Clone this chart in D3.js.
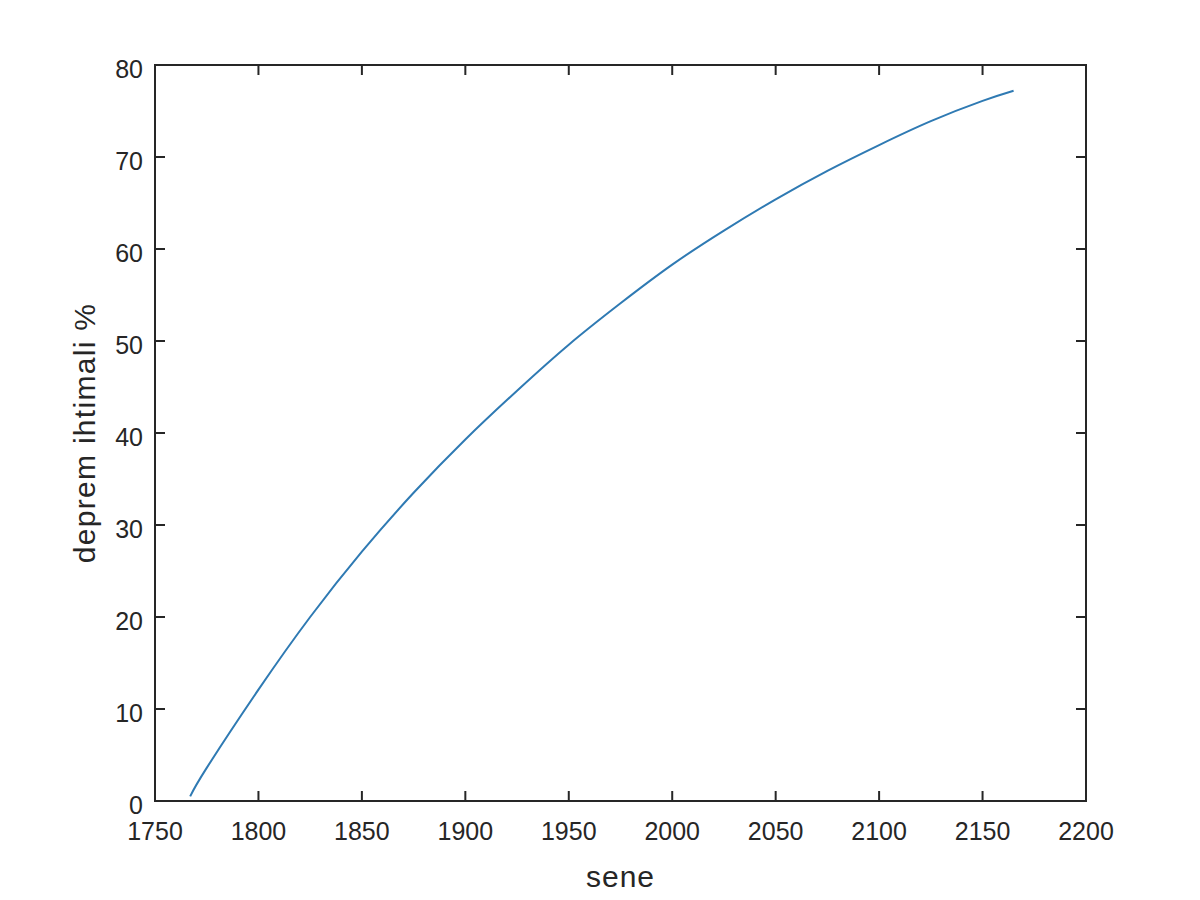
<!DOCTYPE html>
<html>
<head>
<meta charset="utf-8">
<script src="https://cdn.jsdelivr.net/npm/d3@7"></script>
<style>
  html, body { margin: 0; padding: 0; background: #fff; }
  svg { display: block; }
  text { font-family: "Liberation Sans", Arial, Helvetica, sans-serif; fill: #262626; }
</style>
</head>
<body>
<svg id="chart" width="1200" height="900"></svg>
<script>
// Data
const years = [1767, 1775, 1800, 1825, 1850, 1875, 1900, 1925, 1950, 1975, 2000, 2025, 2050, 2075, 2100, 2125, 2150, 2165];
const probability = [0.5, 3.6, 12.1, 20.0, 27.1, 33.5, 39.3, 44.6, 49.6, 54.1, 58.3, 62.0, 65.4, 68.5, 71.3, 73.9, 76.1, 77.2];
const xTicks = [1750, 1800, 1850, 1900, 1950, 2000, 2050, 2100, 2150, 2200];
const yTicks = [0, 10, 20, 30, 40, 50, 60, 70, 80];
const xLabel = "sene";
const yLabel = "deprem ihtimali %";

const svg = d3.select("#chart");
const mLeft = 155, mRight = 1086, mTop = 65, mBottom = 801;

const x = d3.scaleLinear().domain([1750, 2200]).range([mLeft, mRight]);
const y = d3.scaleLinear().domain([0, 80]).range([mBottom, mTop]);

const axisColor = "#262626";
const tickLen = 10;

// Box
svg.append("rect")
  .attr("x", mLeft).attr("y", mTop)
  .attr("width", mRight - mLeft).attr("height", mBottom - mTop)
  .attr("fill", "none").attr("stroke", axisColor).attr("stroke-width", 2);

// Ticks (inward, mirrored on opposite sides)
const g = svg.append("g").attr("stroke", axisColor).attr("stroke-width", 2);
xTicks.forEach(t => {
  g.append("line").attr("x1", x(t)).attr("x2", x(t)).attr("y1", mBottom).attr("y2", mBottom - tickLen);
  g.append("line").attr("x1", x(t)).attr("x2", x(t)).attr("y1", mTop).attr("y2", mTop + tickLen);
});
yTicks.forEach(t => {
  g.append("line").attr("x1", mLeft).attr("x2", mLeft + tickLen).attr("y1", y(t)).attr("y2", y(t));
  g.append("line").attr("x1", mRight).attr("x2", mRight - tickLen).attr("y1", y(t)).attr("y2", y(t));
});

// Tick labels
svg.append("g").selectAll("text").data(xTicks).join("text")
  .attr("x", d => x(d)).attr("y", 840)
  .attr("text-anchor", "middle").attr("font-size", 25)
  .text(d => d);
svg.append("g").selectAll("text").data(yTicks).join("text")
  .attr("x", 143).attr("y", d => y(d) + 13)
  .attr("text-anchor", "end").attr("font-size", 25)
  .text(d => d);

// Axis labels
svg.append("text")
  .attr("x", (mLeft + mRight) / 2).attr("y", 887)
  .attr("text-anchor", "middle").attr("font-size", 30)
  .attr("letter-spacing", 1)
  .text(xLabel);
svg.append("text")
  .attr("transform", `translate(95, ${(mTop + mBottom) / 2}) rotate(-90)`)
  .attr("text-anchor", "middle").attr("font-size", 30)
  .attr("letter-spacing", 1.3)
  .text(yLabel);

// Curve
const line = d3.line()
  .x((d, i) => x(years[i]))
  .y((d, i) => y(probability[i]))
  .curve(d3.curveNatural);
svg.append("path")
  .datum(years)
  .attr("d", line)
  .attr("fill", "none")
  .attr("stroke", "#2f7ab3")
  .attr("stroke-width", 2);
</script>
</body>
</html>
